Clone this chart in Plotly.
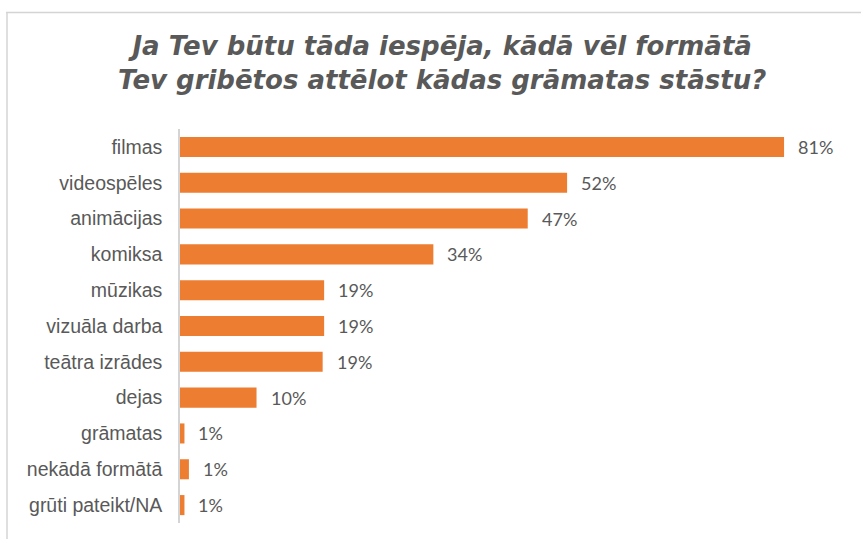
import plotly.graph_objects as go

# Survey answers: preferred format for retelling a book's story (share of respondents, %)
categories = [
    "filmas", "videospēles", "animācijas", "komiksa", "mūzikas",
    "vizuāla darba", "teātra izrādes", "dejas", "grāmatas",
    "nekādā formātā", "grūti pateikt/NA",
]
shares = [81.3, 52.1, 46.8, 34.1, 19.4, 19.4, 19.2, 10.3, 0.6, 1.2, 0.6]

title_text = ("Ja Tev būtu tāda iespēja, kādā vēl formātā<br>"
              "Tev gribētos attēlot kādas grāmatas stāstu?")

W, H = 861, 539
ML, MR, MT, MB = 180, 20, 129, 16
plot_w = W - ML - MR
plot_h = H - MT - MB

BAR = "#ED7D31"
GREY_TXT = "#595959"
GREY_LINE = "#D4D4D4"

fig = go.Figure(
    go.Bar(
        x=shares,
        y=categories,
        orientation="h",
        marker=dict(color=BAR, line=dict(width=0)),
        hoverinfo="skip",
    )
)

# value labels to the right of each bar
for cat, v in zip(categories, shares):
    fig.add_annotation(
        x=v, y=cat, xref="x", yref="y",
        text=f"{v:.0f}%",
        showarrow=False, xanchor="left", yanchor="middle",
        xshift=12,
        font=dict(family="Lato, Open Sans, sans-serif", size=18, color=GREY_TXT),
    )

# title as a two-line annotation placed in pixel terms
fig.add_annotation(
    text=title_text,
    xref="paper", yref="paper",
    x=(442 - ML) / plot_w, xanchor="center",
    y=1 + (MT - 29) / plot_h, yanchor="top",
    showarrow=False, align="center",
    font=dict(family="DejaVu Sans", size=26, color=GREY_TXT,
              weight="bold", style="italic"),
)

# thin outer frame of the chart area (top and left edges)
def px_to_paper_x(px):
    return (px - ML) / plot_w

def px_to_paper_y(py):
    return 1 + (MT - py) / plot_h

frame = dict(color=GREY_LINE, width=1.5)
fig.add_shape(type="line", xref="paper", yref="paper",
              x0=px_to_paper_x(6), x1=px_to_paper_x(W + 5),
              y0=px_to_paper_y(12.5), y1=px_to_paper_y(12.5), line=frame)
fig.add_shape(type="line", xref="paper", yref="paper",
              x0=px_to_paper_x(7), x1=px_to_paper_x(7),
              y0=px_to_paper_y(12), y1=px_to_paper_y(H + 5), line=frame)

fig.update_layout(
    width=W, height=H,
    margin=dict(l=ML, r=MR, t=MT, b=MB, pad=0),
    paper_bgcolor="white", plot_bgcolor="white",
    showlegend=False,
    bargap=0.44,
    xaxis=dict(
        range=[0, plot_w / 7.43],
        visible=False, showgrid=False, zeroline=False, fixedrange=True,
    ),
    yaxis=dict(
        categoryorder="array", categoryarray=categories,
        autorange="reversed",
        showline=True, linecolor=GREY_LINE, linewidth=1.5,
        showgrid=False, zeroline=False, ticks="",
        ticklabelstandoff=12,
        tickfont=dict(family="Liberation Sans, Arial, sans-serif", size=19.5,
                      color=GREY_TXT),
        fixedrange=True,
    ),
)

fig.write_html("out.html")
